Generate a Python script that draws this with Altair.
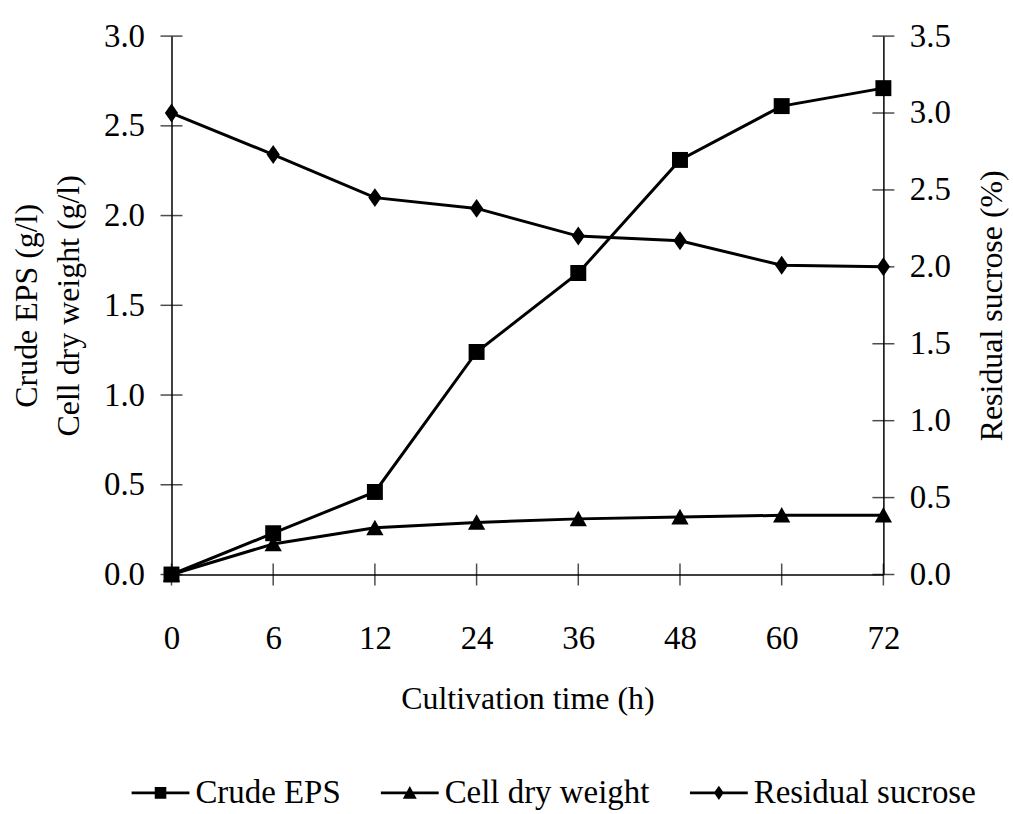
import altair as alt
import pandas as pd

# ---- data ----
times = ["0", "6", "12", "24", "36", "48", "60", "72"]
crude_eps = [0.0, 0.23, 0.46, 1.24, 1.68, 2.31, 2.61, 2.71]
cell_dry_weight = [0.0, 0.17, 0.26, 0.29, 0.31, 0.32, 0.33, 0.33]
residual_sucrose = [3.0, 2.73, 2.45, 2.38, 2.20, 2.17, 2.01, 2.00]

series_names = ["Crude EPS", "Cell dry weight", "Residual sucrose"]
left_ticks = [0.0, 0.5, 1.0, 1.5, 2.0, 2.5, 3.0]
right_ticks = [0.0, 0.5, 1.0, 1.5, 2.0, 2.5, 3.0, 3.5]

FONT = "Liberation Serif"

def frame(vals, name):
    return pd.DataFrame({"time": times, "value": vals, "series": [name] * len(times)})

df_eps = frame(crude_eps, "Crude EPS")
df_cdw = frame(cell_dry_weight, "Cell dry weight")
df_suc = frame(residual_sucrose, "Residual sucrose")
df_left = pd.concat([df_eps, df_cdw])

# crossing tick marks (drawn through the scales)
df_lt = pd.DataFrame({"time": [times[0]] * len(left_ticks), "value": left_ticks})
df_rt = pd.DataFrame({"time": [times[-1]] * len(right_ticks), "value": right_ticks})
df_bt = pd.DataFrame({"time": times, "value": [0.0] * len(times)})

SQUARE = "M-1,-1H1V1H-1Z"
TRIANGLE = "M-1,0.85L0,-0.95L1,0.85Z"
DIAMOND = "M-0.7,0L0,-1L0.7,0L0,1Z"

# legend symbols: a filled bar (the line) with the marker on top
BAR = "M-1,-0.05H1V0.05H-1Z"
legend_paths = [
    BAR + "M-0.2,-0.2H0.2V0.2H-0.2Z",
    BAR + "M-0.24,0.2L0,-0.24L0.24,0.2Z",
    BAR + "M-0.17,0L0,-0.25L0.17,0L0,0.25Z",
]

x_enc = alt.X(
    "time:O",
    sort=times,
    scale=alt.Scale(type="point", padding=0),
    axis=alt.Axis(
        title="Cultivation time (h)",
        labelAngle=0,
        ticks=False,
        labelPadding=48,
        titlePadding=28,
    ),
)

y_left = alt.Y(
    "value:Q",
    scale=alt.Scale(domain=[0, 3], nice=False, zero=True),
    axis=alt.Axis(
        values=left_ticks,
        format=".1f",
        title=["Crude EPS (g/l)", "Cell dry weight (g/l)"],
        titleLineHeight=42,
        ticks=False,
        labelPadding=27,
        titlePadding=18,
        orient="left",
    ),
)

y_right = alt.Y(
    "value:Q",
    scale=alt.Scale(domain=[0, 3.5], nice=False, zero=True),
    axis=alt.Axis(
        values=right_ticks,
        format=".1f",
        title="Residual sucrose (%)",
        titleAngle=270,
        titleBaseline="top",
        ticks=False,
        labelPadding=26,
        titlePadding=26,
        orient="right",
    ),
)

legend_layer = (
    alt.Chart(df_left)
    .transform_filter("false")
    .mark_point(filled=True, color="black", opacity=1)
    .encode(
        x=x_enc,
        y=y_left,
        shape=alt.Shape(
            "series:N",
            scale=alt.Scale(domain=series_names, range=legend_paths),
            legend=alt.Legend(
                title=None,
                orient="none",
                direction="horizontal",
                legendX=-40,
                legendY=730,
                symbolSize=3364,
                symbolFillColor="black",
                symbolStrokeWidth=0,
                labelOffset=6,
                labelLimit=500,
                columnPadding=40,
                labelFont=FONT,
                labelFontSize=33,
                labelColor="black",
            ),
        ),
    )
)

def line(df, y):
    return alt.Chart(df).mark_line(color="black", strokeWidth=3).encode(x=x_enc, y=y)

def pts(df, y, path, size):
    return alt.Chart(df).mark_point(
        filled=True, color="black", opacity=1, shape=path, size=size
    ).encode(x=x_enc, y=y)

ticks_left = alt.Chart(df_lt).mark_tick(
    orient="horizontal", size=22, thickness=1.5, color="black"
).encode(x=x_enc, y=y_left)
ticks_bottom = alt.Chart(df_bt).mark_tick(
    orient="vertical", size=22, thickness=1.5, color="black"
).encode(x=x_enc, y=y_left)
ticks_right = alt.Chart(df_rt).mark_tick(
    orient="horizontal", size=22, thickness=1.5, color="black"
).encode(x=x_enc, y=y_right)

left = alt.layer(
    ticks_left,
    ticks_bottom,
    line(df_eps, y_left),
    line(df_cdw, y_left),
    pts(df_eps, y_left, SQUARE, 256),
    pts(df_cdw, y_left, TRIANGLE, 300),
    legend_layer,
)
right = alt.layer(
    ticks_right,
    line(df_suc, y_right),
    pts(df_suc, y_right, DIAMOND, 361),
)

chart = (
    alt.layer(left, right)
    .resolve_scale(y="independent")
    .properties(
        width=714,
        height=540,
        padding={"left": 10, "top": 19, "right": 5, "bottom": 5},
        background="white",
    )
    .configure_view(stroke=None)
    .configure_axis(
        grid=False,
        domainColor="black",
        domainWidth=1.5,
        labelFont=FONT,
        labelFontSize=33,
        labelColor="black",
        titleFont=FONT,
        titleFontSize=32,
        titleFontWeight="normal",
        titleColor="black",
    )
)

chart.save("out.html", embed_options={"renderer": "svg", "actions": False})
